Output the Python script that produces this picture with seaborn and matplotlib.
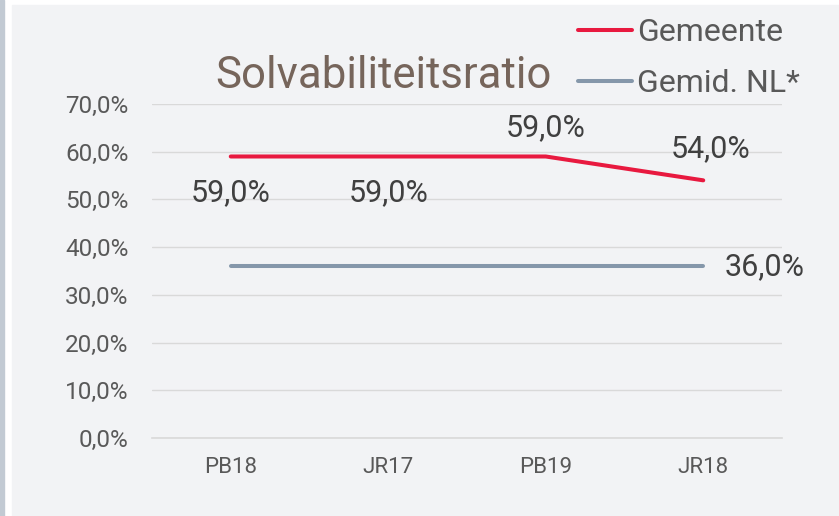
import pandas as pd
import matplotlib.pyplot as plt
import seaborn as sns
from matplotlib.patches import Rectangle
from matplotlib.ticker import FuncFormatter

# data
periodes = ["PB18", "JR17", "PB19", "JR18"]
gemeente = [59.0, 59.0, 59.0, 54.0]
gemid_nl = [36.0, 36.0, 36.0, 36.0]
reeksen = ["Gemeente", "Gemid. NL*"]

sns.set_style("white")
plt.rcParams["font.family"] = ["Roboto", "DejaVu Sans"]

df = pd.DataFrame({
    "periode": periodes * 2,
    "ratio": gemeente + gemid_nl,
    "reeks": [reeksen[0]] * len(periodes) + [reeksen[1]] * len(periodes),
})

kleuren = {reeksen[0]: "#e8193f", reeksen[1]: "#8597aa"}
achtergrond = "#f2f3f5"
W, H = 839, 516


def pct(v, pos=None):
    return f"{v:.1f}%".replace(".", ",")


fig = plt.figure(figsize=(W / 100, H / 100), dpi=100, facecolor="white")
# randen van het paneel
fig.patches.append(Rectangle((0, 0), 4 / W, 1, transform=fig.transFigure,
                             color="#c2cad3", zorder=-10))
fig.patches.append(Rectangle((12 / W, 0), 1, 1 - 5 / H, transform=fig.transFigure,
                             color=achtergrond, zorder=-10))

ax = fig.add_axes([152 / W, 1 - 438 / H, 630 / W, 334 / H])
ax.set_facecolor("none")

sns.lineplot(data=df, x="periode", y="ratio", hue="reeks", palette=kleuren,
             sort=False, linewidth=2.9, ax=ax)
for ln in ax.lines:
    ln.set_solid_capstyle("round")

# assen
ax.set_xlim(-0.5, len(periodes) - 0.5)
ax.set_ylim(0, 70)
ax.set_yticks(range(0, 71, 10))
ax.yaxis.set_major_formatter(FuncFormatter(pct))
ax.set_xticks(range(len(periodes)))
ax.set_xticklabels(periodes)
ax.set_xticks([i - 0.5 for i in range(len(periodes) + 1)], minor=True)
ax.tick_params(axis="x", which="major", length=0, pad=14, labelsize=16, labelcolor="#595959")
ax.tick_params(axis="x", which="minor", length=7, width=1, color="#d9d9d9")
ax.tick_params(axis="y", length=0, pad=17, labelsize=17.5, labelcolor="#595959")
ax.set_xlabel("")
ax.set_ylabel("")
ax.yaxis.grid(True, color="#d9d9d9", linewidth=1)
ax.set_axisbelow(True)
for s in ["top", "right", "left"]:
    ax.spines[s].set_visible(False)
ax.spines["bottom"].set_color("#d9d9d9")
ax.spines["bottom"].set_linewidth(1.2)

# datalabels
offsets_gem = [(0, -36), (0, -36), (0, 29), (7, 32)]
for i, (v, (dx, dy)) in enumerate(zip(gemeente, offsets_gem)):
    ax.annotate(pct(v), (i, v), xytext=(dx, dy), textcoords="offset pixels",
                ha="center", va="center", fontsize=22, color="#404040")
ax.annotate(pct(gemid_nl[-1]), (len(periodes) - 1, gemid_nl[-1]), xytext=(21, 0),
            textcoords="offset pixels", ha="left", va="center", fontsize=22, color="#404040")

# titel
fig.text(383 / W, 1 - 88 / H, "Solvabiliteitsratio", ha="center", va="baseline",
         fontsize=31.5, color="#76655b")

# legenda
handles, labels = ax.get_legend_handles_labels()
ax.legend(handles, labels, loc="upper left", bbox_to_anchor=(578 / W, 1 - 18 / H),
          bbox_transform=fig.transFigure, frameon=False, fontsize=23,
          handlelength=1.7, handletextpad=0.15, labelspacing=0.68,
          borderpad=0, borderaxespad=0, labelcolor="#595959")

fig.savefig("out.png", dpi=100, facecolor=fig.get_facecolor())
